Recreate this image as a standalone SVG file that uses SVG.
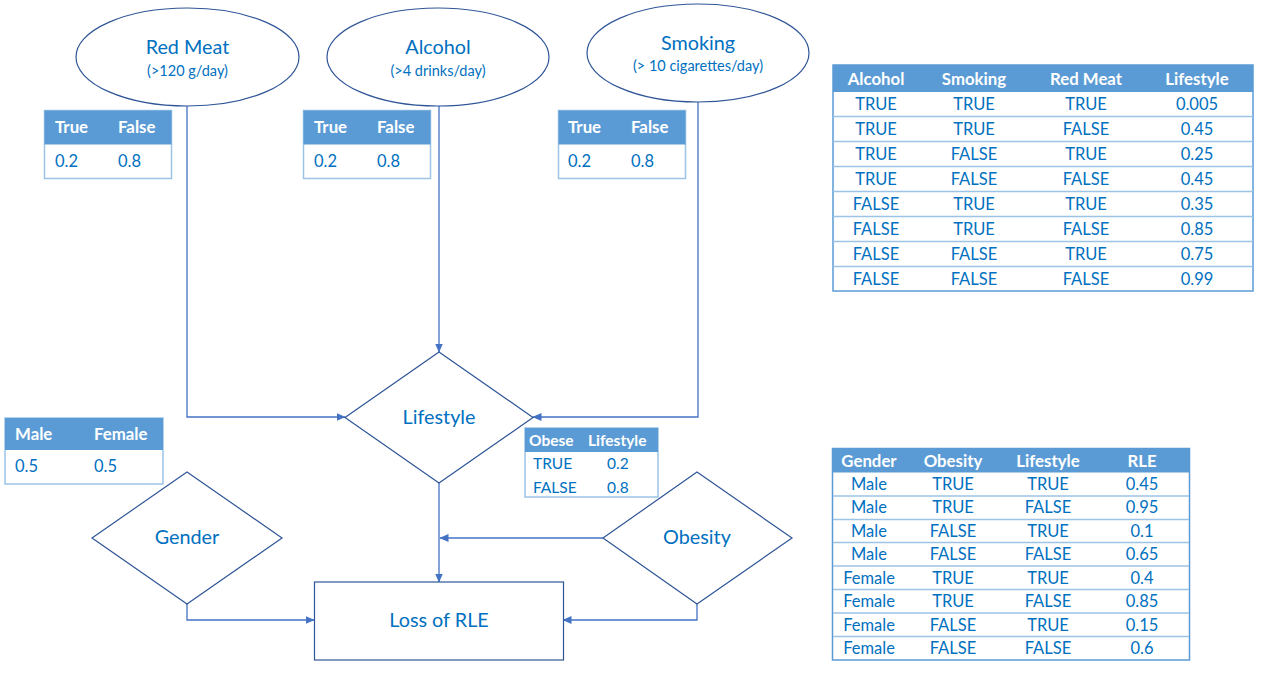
<svg xmlns="http://www.w3.org/2000/svg" width="1266" height="694" viewBox="0 0 1266 694">
<defs>
<marker id="arr" markerWidth="9" markerHeight="8" refX="8.5" refY="4" orient="auto" markerUnits="userSpaceOnUse">
<path d="M0,0 L9,4 L0,8 z" fill="#4472c4"/>
</marker>
<style>
text{font-family:Lato,"Liberation Sans",sans-serif;fill:#0070c0}
.shape{fill:#fff;stroke:#2f5597;stroke-width:1.2}
.conn{fill:none;stroke:#4472c4;stroke-width:1.3}
.big{font-size:19.8px;text-anchor:middle}
.sub{font-size:14.5px;text-anchor:middle}
.hdr{fill:#5b9bd5}
.tbox{fill:#fff;stroke:#9dc3e6;stroke-width:1.5}
.h{fill:#fff;font-weight:bold;font-size:16.8px}
.c{font-size:16.5px}
.m{text-anchor:middle}
.grid{stroke:#9dc3e6;stroke-width:1.5}
.sm{font-size:15.5px}
</style>
</defs>
<rect width="1266" height="694" fill="#fff"/>

<g id="connectors">
<polyline class="conn" points="187,106 187,417 345,417" marker-end="url(#arr)"/>
<polyline class="conn" points="439,106 439,352" marker-end="url(#arr)"/>
<polyline class="conn" points="698,102 698,417 533,417" marker-end="url(#arr)"/>
<polyline class="conn" points="439,483 439,582" marker-end="url(#arr)"/>
<polyline class="conn" points="603,538 440,538" marker-end="url(#arr)"/>
<polyline class="conn" points="187,604 187,620 314,620" marker-end="url(#arr)"/>
<polyline class="conn" points="697,604 697,620 563,620" marker-end="url(#arr)"/>
</g>

<g id="red-meat">
<ellipse class="shape" cx="187.5" cy="57" rx="111.5" ry="49"/>
<text class="big" x="187.5" y="54">Red Meat</text>
<text class="sub" x="187.5" y="76">(&gt;120 g/day)</text>
</g>
<g id="alcohol">
<ellipse class="shape" cx="438" cy="57" rx="111" ry="49"/>
<text class="big" x="438" y="54">Alcohol</text>
<text class="sub" x="438" y="76">(&gt;4 drinks/day)</text>
</g>
<g id="smoking">
<ellipse class="shape" cx="698" cy="53" rx="111" ry="49"/>
<text class="big" x="698" y="50">Smoking</text>
<text class="sub" x="698" y="71">(&gt; 10 cigarettes/day)</text>
</g>

<g id="red-meat-table">
<rect class="tbox" x="44.5" y="110.5" width="127" height="68"/>
<rect class="hdr" x="44.5" y="110.5" width="127" height="34"/>
<text class="h" x="55" y="133">True</text>
<text class="h" x="118" y="133">False</text>
<text class="c" x="55" y="167">0.2</text>
<text class="c" x="118" y="167">0.8</text>
</g>
<g id="alcohol-table">
<rect class="tbox" x="303.5" y="110.5" width="127" height="68"/>
<rect class="hdr" x="303.5" y="110.5" width="127" height="34"/>
<text class="h" x="314" y="133">True</text>
<text class="h" x="377" y="133">False</text>
<text class="c" x="314" y="167">0.2</text>
<text class="c" x="377" y="167">0.8</text>
</g>
<g id="smoking-table">
<rect class="tbox" x="558.5" y="110.5" width="127" height="68"/>
<rect class="hdr" x="558.5" y="110.5" width="127" height="34"/>
<text class="h" x="568" y="133">True</text>
<text class="h" x="631" y="133">False</text>
<text class="c" x="568" y="167">0.2</text>
<text class="c" x="631" y="167">0.8</text>
</g>

<g id="lifestyle-table">
<rect class="tbox" x="833" y="65" width="420" height="226" style="stroke:#5b9bd5"/>
<rect class="hdr" x="833" y="65" width="420" height="27"/>
<g class="grid">
<line x1="833" y1="116.5" x2="1253" y2="116.5"/>
<line x1="833" y1="141.5" x2="1253" y2="141.5"/>
<line x1="833" y1="166.5" x2="1253" y2="166.5"/>
<line x1="833" y1="191.5" x2="1253" y2="191.5"/>
<line x1="833" y1="216.5" x2="1253" y2="216.5"/>
<line x1="833" y1="241.5" x2="1253" y2="241.5"/>
<line x1="833" y1="266.5" x2="1253" y2="266.5"/>
</g>
<g class="m">
<text class="h m" x="876" y="85">Alcohol</text>
<text class="h m" x="974" y="85">Smoking</text>
<text class="h m" x="1086" y="85">Red Meat</text>
<text class="h m" x="1197" y="85">Lifestyle</text>
<text class="c m" x="876" y="110">TRUE</text><text class="c m" x="974" y="110">TRUE</text><text class="c m" x="1086" y="110">TRUE</text><text class="c m" x="1197" y="110">0.005</text>
<text class="c m" x="876" y="135">TRUE</text><text class="c m" x="974" y="135">TRUE</text><text class="c m" x="1086" y="135">FALSE</text><text class="c m" x="1197" y="135">0.45</text>
<text class="c m" x="876" y="160">TRUE</text><text class="c m" x="974" y="160">FALSE</text><text class="c m" x="1086" y="160">TRUE</text><text class="c m" x="1197" y="160">0.25</text>
<text class="c m" x="876" y="185">TRUE</text><text class="c m" x="974" y="185">FALSE</text><text class="c m" x="1086" y="185">FALSE</text><text class="c m" x="1197" y="185">0.45</text>
<text class="c m" x="876" y="210">FALSE</text><text class="c m" x="974" y="210">TRUE</text><text class="c m" x="1086" y="210">TRUE</text><text class="c m" x="1197" y="210">0.35</text>
<text class="c m" x="876" y="235">FALSE</text><text class="c m" x="974" y="235">TRUE</text><text class="c m" x="1086" y="235">FALSE</text><text class="c m" x="1197" y="235">0.85</text>
<text class="c m" x="876" y="260">FALSE</text><text class="c m" x="974" y="260">FALSE</text><text class="c m" x="1086" y="260">TRUE</text><text class="c m" x="1197" y="260">0.75</text>
<text class="c m" x="876" y="285">FALSE</text><text class="c m" x="974" y="285">FALSE</text><text class="c m" x="1086" y="285">FALSE</text><text class="c m" x="1197" y="285">0.99</text>
</g>
</g>

<g id="lifestyle">
<path class="shape" d="M439,352 L533,417.5 L439,483 L345,417.5 Z"/>
<text class="big" x="439" y="424">Lifestyle</text>
</g>

<g id="gender-table">
<rect class="tbox" x="5" y="418" width="158" height="66"/>
<rect class="hdr" x="5" y="418" width="158" height="32"/>
<text class="h" x="15" y="440">Male</text>
<text class="h" x="94" y="440">Female</text>
<text class="c" x="15" y="472">0.5</text>
<text class="c" x="94" y="472">0.5</text>
</g>

<g id="obese-table">
<rect class="tbox" x="525" y="428" width="133" height="69"/>
<rect class="hdr" x="525" y="428" width="133" height="24"/>
<text class="h sm" x="529" y="446">Obese</text>
<text class="h sm" x="588" y="446">Lifestyle</text>
<text class="c sm" x="533" y="469">TRUE</text>
<text class="c sm" x="607" y="469">0.2</text>
<text class="c sm" x="533" y="493">FALSE</text>
<text class="c sm" x="607" y="493">0.8</text>
</g>

<g id="gender">
<path class="shape" d="M187,472 L282,538 L187,604 L92,538 Z"/>
<text class="big" x="187" y="544">Gender</text>
</g>
<g id="obesity">
<path class="shape" d="M697,472 L792,538 L697,604 L603,538 Z"/>
<text class="big" x="697" y="544">Obesity</text>
</g>
<g id="loss-of-rle">
<rect class="shape" x="314.5" y="582" width="249" height="78"/>
<text class="big" x="439" y="627">Loss of RLE</text>
</g>

<g id="rle-table">
<rect class="tbox" x="832.5" y="448.5" width="357" height="211.5" style="stroke:#5b9bd5"/>
<rect class="hdr" x="832.5" y="448.5" width="357" height="24"/>
<g class="grid">
<line x1="833" y1="496" x2="1189" y2="496"/>
<line x1="833" y1="519.5" x2="1189" y2="519.5"/>
<line x1="833" y1="542.5" x2="1189" y2="542.5"/>
<line x1="833" y1="566" x2="1189" y2="566"/>
<line x1="833" y1="589.5" x2="1189" y2="589.5"/>
<line x1="833" y1="613" x2="1189" y2="613"/>
<line x1="833" y1="636.5" x2="1189" y2="636.5"/>
</g>
<text class="h m" x="869" y="467">Gender</text>
<text class="h m" x="953" y="467">Obesity</text>
<text class="h m" x="1048" y="467">Lifestyle</text>
<text class="h m" x="1142" y="467">RLE</text>
<text class="c m" x="869" y="490">Male</text><text class="c m" x="953" y="490">TRUE</text><text class="c m" x="1048" y="490">TRUE</text><text class="c m" x="1142" y="490">0.45</text>
<text class="c m" x="869" y="513">Male</text><text class="c m" x="953" y="513">TRUE</text><text class="c m" x="1048" y="513">FALSE</text><text class="c m" x="1142" y="513">0.95</text>
<text class="c m" x="869" y="537">Male</text><text class="c m" x="953" y="537">FALSE</text><text class="c m" x="1048" y="537">TRUE</text><text class="c m" x="1142" y="537">0.1</text>
<text class="c m" x="869" y="560">Male</text><text class="c m" x="953" y="560">FALSE</text><text class="c m" x="1048" y="560">FALSE</text><text class="c m" x="1142" y="560">0.65</text>
<text class="c m" x="869" y="584">Female</text><text class="c m" x="953" y="584">TRUE</text><text class="c m" x="1048" y="584">TRUE</text><text class="c m" x="1142" y="584">0.4</text>
<text class="c m" x="869" y="607">Female</text><text class="c m" x="953" y="607">TRUE</text><text class="c m" x="1048" y="607">FALSE</text><text class="c m" x="1142" y="607">0.85</text>
<text class="c m" x="869" y="631">Female</text><text class="c m" x="953" y="631">FALSE</text><text class="c m" x="1048" y="631">TRUE</text><text class="c m" x="1142" y="631">0.15</text>
<text class="c m" x="869" y="654">Female</text><text class="c m" x="953" y="654">FALSE</text><text class="c m" x="1048" y="654">FALSE</text><text class="c m" x="1142" y="654">0.6</text>
</g>
</svg>
